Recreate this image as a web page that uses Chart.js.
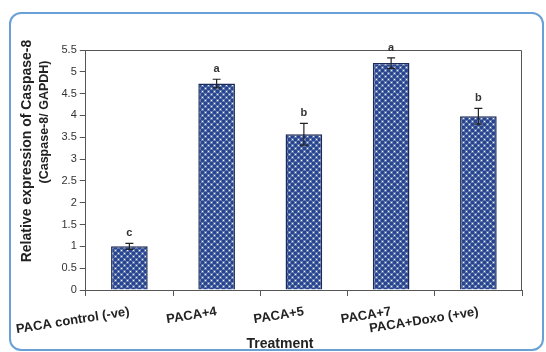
<!DOCTYPE html>
<html>
<head>
<meta charset="utf-8">
<script src="https://cdn.jsdelivr.net/npm/chart.js@4.4.1/dist/chart.umd.min.js"></script>
<style>
    body { margin: 0; background: #fff; }
    #wrap { position: relative; width: 546px; height: 352px; overflow: hidden; }
    #frame {
        position: absolute; left: 9px; top: 12px; width: 535px; height: 339px;
        box-sizing: border-box; border: 2px solid #6aa0d6; border-radius: 12px;
    }
    #chart { position: absolute; left: 0; top: 0; }
</style>
</head>
<body>
<div id="wrap">
    <div id="frame"></div>
    <canvas id="chart" width="546" height="352"></canvas>
</div>
<script>
// dados
const categories = ['PACA control (-ve)', 'PACA+4', 'PACA+5', 'PACA+7', 'PACA+Doxo (+ve)'];
const values = [1.0, 4.73, 3.57, 5.2, 3.98];
const errors = [0.07, 0.1, 0.25, 0.12, 0.18];
const letters = ['c', 'a', 'b', 'a', 'b'];
const yTicks = [0, 0.5, 1, 1.5, 2, 2.5, 3, 3.5, 4, 4.5, 5, 5.5];

const FONT = '"Liberation Sans", Arial, sans-serif';

// padrão de pontos das barras
function makePattern() {
    const c = document.createElement('canvas');
    c.width = 6; c.height = 6;
    const g = c.getContext('2d');
    g.fillStyle = '#eef2f9';
    g.fillRect(0, 0, 6, 6);
    g.fillStyle = '#28468f';
    const pts = [];
    for (let dx = -6; dx <= 6; dx += 6) {
        for (let dy = -6; dy <= 6; dy += 6) {
            pts.push([1.5 + dx, 1.5 + dy], [4.5 + dx, 4.5 + dy]);
        }
    }
    pts.forEach(([x, y]) => {
        g.beginPath();
        g.arc(x, y, 2.2, 0, Math.PI * 2);
        g.fill();
    });
    return g.createPattern(c, 'repeat');
}

const boxPlugin = {
    id: 'boxPlugin',
    afterDatasetsDraw(chart) {
        const { ctx, chartArea: a, scales } = chart;
        ctx.save();
        // moldura do gráfico
        ctx.strokeStyle = '#555';
        ctx.lineWidth = 1;
        ctx.beginPath();
        ctx.moveTo(a.left, a.top + 0.5);
        ctx.lineTo(a.right - 0.5, a.top + 0.5);
        ctx.lineTo(a.right - 0.5, a.bottom);
        ctx.stroke();

        // barras de erro e letras
        ctx.strokeStyle = '#222';
        ctx.lineWidth = 1.2;
        ctx.fillStyle = '#333';
        ctx.font = 'bold 11px ' + FONT;
        ctx.textAlign = 'center';
        ctx.textBaseline = 'alphabetic';
        values.forEach((v, i) => {
            const x = scales.x.getPixelForValue(i);
            const yHi = scales.y.getPixelForValue(v + errors[i]);
            const yLo = scales.y.getPixelForValue(v - errors[i]);
            ctx.beginPath();
            ctx.moveTo(x, yHi); ctx.lineTo(x, yLo);
            ctx.moveTo(x - 4, yHi); ctx.lineTo(x + 4, yHi);
            ctx.moveTo(x - 4, yLo); ctx.lineTo(x + 4, yLo);
            ctx.stroke();
            ctx.fillText(letters[i], x, yHi - 7);
        });

        // títulos dos eixos
        ctx.fillStyle = '#222';
        ctx.font = 'bold 14px ' + FONT;
        ctx.textBaseline = 'middle';
        ctx.fillText('Treatment', 280, 344);

        ctx.save();
        ctx.translate(27, 151);
        ctx.rotate(-Math.PI / 2);
        ctx.fillText('Relative expression of Caspase-8', 0, 0);
        ctx.restore();
        ctx.font = 'bold 12.5px ' + FONT;
        ctx.save();
        ctx.translate(45, 122);
        ctx.rotate(-Math.PI / 2);
        ctx.fillText('(Caspase-8/ GAPDH)', 0, 0);
        ctx.restore();
        ctx.restore();
    }
};

new Chart(document.getElementById('chart'), {
    type: 'bar',
    data: {
        labels: categories,
        datasets: [{
            data: values,
            backgroundColor: makePattern(),
            borderColor: '#1b2a58',
            borderWidth: 1.5,
            categoryPercentage: 1,
            barPercentage: 0.42
        }]
    },
    options: {
        responsive: false,
        animation: false,
        layout: { padding: { left: 0, right: 24, top: 50, bottom: 0 } },
        plugins: { legend: { display: false }, tooltip: { enabled: false } },
        scales: {
            x: {
                offset: true,
                grid: { offset: true, drawOnChartArea: false, tickLength: 6, color: '#555' },
                border: { color: '#555' },
                ticks: {
                    autoSkip: false,
                    minRotation: 9, maxRotation: 9, padding: 8,
                    color: '#222', font: { family: FONT, size: 13, weight: 'bold' }
                },
                afterFit(s) { s.height = 62; }
            },
            y: {
                min: 0, max: 5.5,
                afterBuildTicks(s) { s.ticks = yTicks.map(v => ({ value: v })); },
                grid: { drawOnChartArea: false, tickLength: 6, color: '#555' },
                border: { color: '#555' },
                ticks: {
                    padding: 3, color: '#333',
                    font: { family: FONT, size: 11 },
                    callback: v => String(v)
                },
                afterFit(s) { s.width = 82; }
            }
        }
    },
    plugins: [boxPlugin]
});
</script>
</body>
</html>
